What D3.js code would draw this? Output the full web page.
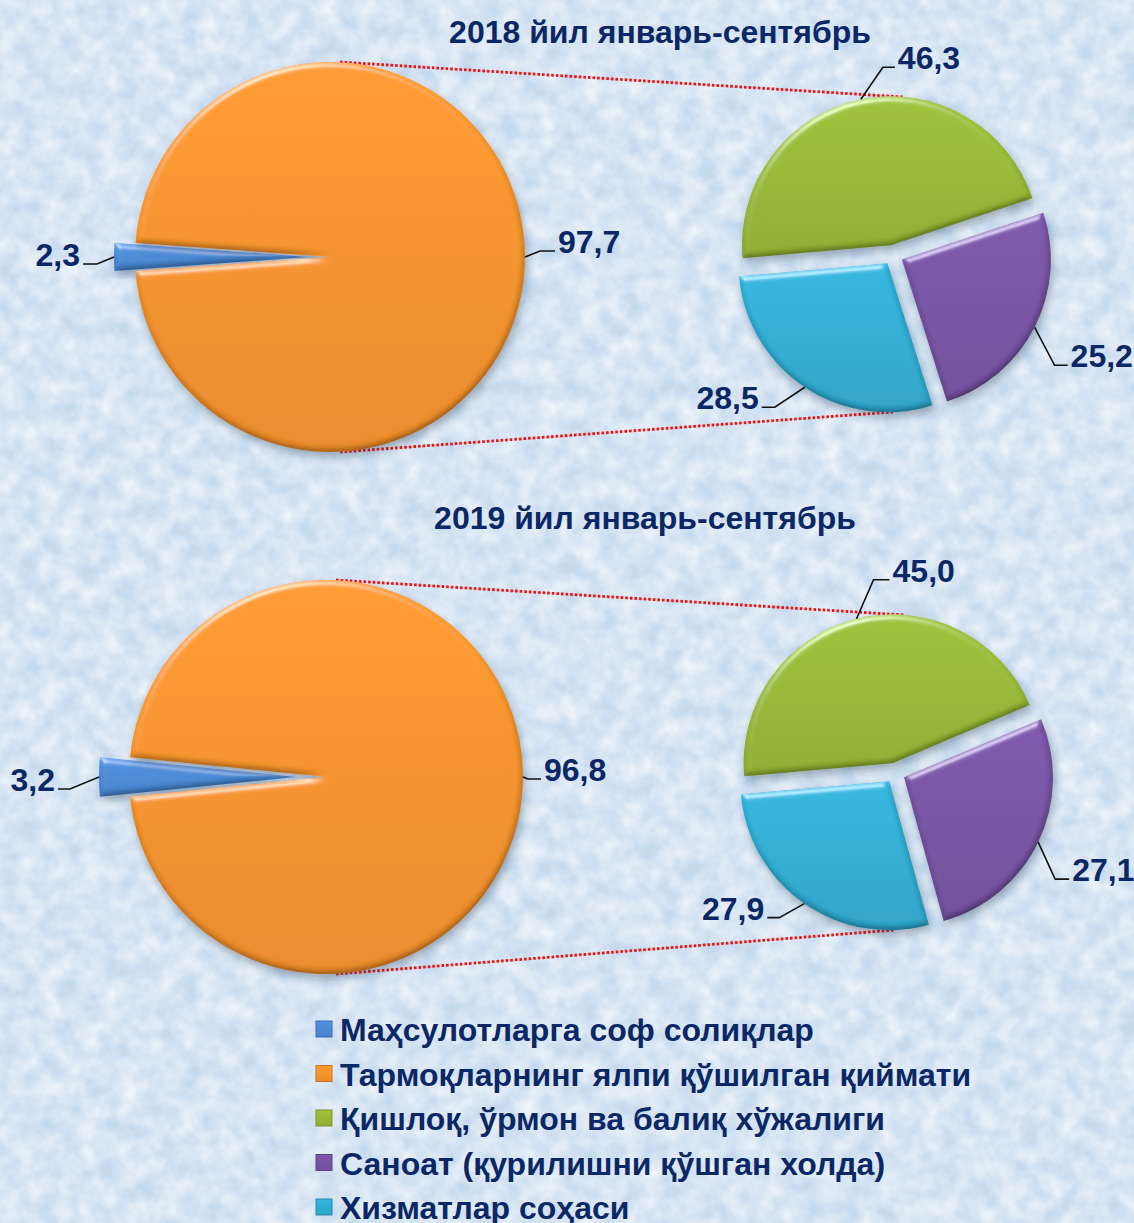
<!DOCTYPE html>
<html>
<head>
<meta charset="utf-8">
<script src="https://cdn.jsdelivr.net/npm/d3@7"></script>
<style>
  html, body { margin: 0; padding: 0; background: #d6e5f4; }
  svg { display: block; }
  text { font-family: "Liberation Sans", Arial, sans-serif; font-weight: bold; fill: #0b2766; }
</style>
</head>
<body>
<div id="chart"></div>
<script>
// категориялар (легенда тартибида)
const categories = [
  "Маҳсулотларга соф солиқлар",
  "Тармоқларнинг ялпи қўшилган қиймати",
  "Қишлоқ, ўрмон ва балиқ хўжалиги",
  "Саноат (қурилишни қўшган холда)",
  "Хизматлар соҳаси"
];
const colors = ["#4a8ad6", "#f7932b", "#97b835", "#7753a3", "#2fadd3"];

const titles = ["2018 йил январь-сентябрь", "2019 йил январь-сентябрь"];

// асосий доира: соф солиқлар, ЯҚҚ
const main2018 = [2.3, 97.7];
const main2019 = [3.2, 96.8];
// иккинчи доира: қишлоқ хўжалиги, саноат, хизматлар
const sub2018 = [46.3, 25.2, 28.5];
const sub2019 = [45.0, 27.1, 27.9];

const width = 1134, height = 1223;

// жойлашув
const panels = [
  {
    title: titles[0], main: main2018, sub: sub2018,
    titleX: 660, titleY: 43,
    big: { cx: 330, cy: 257, r: 195, explode: 21 },
    small: { cx: 893, cy: 255, r: 149, explode: 10 },
    mainLeaders: [[-17, 7, -14], [15, -6, 15]],
    subLeaders: [[22, -32, 12], [20, 38, 13], [-30, 20, -13]]
  },
  {
    title: titles[1], main: main2019, sub: sub2019,
    titleX: 645, titleY: 529,
    big: { cx: 326, cy: 777, r: 197, explode: 30 },
    small: { cx: 895, cy: 773, r: 149, explode: 10 },
    mainLeaders: [[-29, 12, -12], [5, 2, 13]],
    subLeaders: [[17, -39, 16], [17, 37, 14], [-25, 14, -12]]
  }
];

const fmt = d3.formatLocale({ decimal: ",", thousands: " ", grouping: [3], currency: ["", ""] }).format(".1f");

const svg = d3.select("#chart").append("svg")
  .attr("width", width)
  .attr("height", height);

const defs = svg.append("defs");

// фон текстураси
const tex = defs.append("filter").attr("id", "tex")
  .attr("filterUnits", "userSpaceOnUse")
  .attr("x", 0).attr("y", 0).attr("width", width).attr("height", height);
tex.append("feTurbulence").attr("type", "fractalNoise")
  .attr("baseFrequency", 0.05).attr("numOctaves", 3).attr("seed", 7);
tex.append("feColorMatrix").attr("type", "matrix")
  .attr("values", "0 0 0 0 1  0 0 0 0 1  0 0 0 0 1  1.1 0 0 0 -0.25");

// бўртма эффект
const bevel = defs.append("filter").attr("id", "bevel")
  .attr("x", "-20%").attr("y", "-20%").attr("width", "140%").attr("height", "145%");
bevel.append("feGaussianBlur").attr("in", "SourceAlpha").attr("stdDeviation", 3).attr("result", "blur");
bevel.append("feDiffuseLighting").attr("in", "blur").attr("surfaceScale", 3)
  .attr("diffuseConstant", 1.13).attr("lighting-color", "#ffffff").attr("result", "diff")
  .append("feDistantLight").attr("azimuth", 250).attr("elevation", 62);
bevel.append("feComposite").attr("in", "SourceGraphic").attr("in2", "diff")
  .attr("operator", "arithmetic").attr("k1", 1).attr("k2", 0).attr("k3", 0).attr("k4", 0).attr("result", "shade");
bevel.append("feSpecularLighting").attr("in", "blur").attr("surfaceScale", 3)
  .attr("specularConstant", 0.8).attr("specularExponent", 40).attr("lighting-color", "#ffffff").attr("result", "spec")
  .append("feDistantLight").attr("azimuth", 250).attr("elevation", 40);
bevel.append("feComposite").attr("in", "spec").attr("in2", "SourceAlpha").attr("operator", "in").attr("result", "specIn");
bevel.append("feComposite").attr("in", "shade").attr("in2", "specIn")
  .attr("operator", "arithmetic").attr("k1", 0).attr("k2", 1).attr("k3", 0.6).attr("k4", 0).attr("result", "lit");
bevel.append("feGaussianBlur").attr("in", "SourceAlpha").attr("stdDeviation", 4).attr("result", "sblur");
bevel.append("feOffset").attr("in", "sblur").attr("dx", 2).attr("dy", 5).attr("result", "soff");
bevel.append("feFlood").attr("flood-color", "#1d3550").attr("flood-opacity", 0.35).attr("result", "sfl");
bevel.append("feComposite").attr("in", "sfl").attr("in2", "soff").attr("operator", "in").attr("result", "shadow");
const merge = bevel.append("feMerge");
merge.append("feMergeNode").attr("in", "shadow");
merge.append("feMergeNode").attr("in", "lit");

// рангли градиентлар
colors.forEach((c, i) => {
  const gr = defs.append("linearGradient").attr("id", "grad" + i)
    .attr("x1", 0).attr("y1", 0).attr("x2", 0).attr("y2", 1);
  gr.append("stop").attr("offset", "0%").attr("stop-color", d3.color(c).brighter(0.15));
  gr.append("stop").attr("offset", "100%").attr("stop-color", d3.color(c).darker(0.15));
});

// фон
svg.append("rect").attr("width", width).attr("height", height).attr("fill", "#c6daee");
svg.append("rect").attr("width", width).attr("height", height).attr("filter", "url(#tex)");

function offsetOf(d, o) {
  const m = (d.startAngle + d.endAngle) / 2;
  return [o * Math.sin(m), -o * Math.cos(m)];
}

function drawLeader(g, anchor, leg, label) {
  const ex = anchor[0] + leg[0], ey = anchor[1] + leg[1];
  const hx = ex + leg[2];
  g.append("path")
    .attr("d", `M${anchor[0]},${anchor[1]}L${ex},${ey}L${hx},${ey}`)
    .attr("fill", "none")
    .attr("stroke", "#111")
    .attr("stroke-width", 1.6);
  g.append("text")
    .attr("x", leg[2] > 0 ? hx + 3 : hx - 3)
    .attr("y", ey + 2)
    .attr("text-anchor", leg[2] > 0 ? "start" : "end")
    .attr("font-size", "32px")
    .text(label);
}

function drawPanel(p) {
  const g = svg.append("g");

  g.append("text")
    .attr("x", p.titleX)
    .attr("y", p.titleY)
    .attr("text-anchor", "middle")
    .attr("font-size", "32px")
    .text(p.title);

  // пунктир чизиқлар
  const b = p.big, s = p.small;
  const links = [
    [[b.cx + 10, b.cy - b.r], [s.cx + 10, s.cy - s.r - s.explode + 1]],
    [[b.cx + 10, b.cy + b.r], [s.cx, s.cy + s.r + s.explode - 2]]
  ];
  g.selectAll(".link").data(links).join("line")
    .attr("class", "link")
    .attr("x1", d => d[0][0]).attr("y1", d => d[0][1])
    .attr("x2", d => d[1][0]).attr("y2", d => d[1][1])
    .attr("stroke", "#f01010")
    .attr("stroke-width", 2.8)
    .attr("stroke-dasharray", "2.6 2");

  // катта доира
  const total = d3.sum(p.main);
  const a0 = 1.5 * Math.PI - Math.PI * p.main[0] / total;
  const bigArcs = d3.pie().sort(null).startAngle(a0).endAngle(a0 + 2 * Math.PI)(p.main);
  const bigArc = d3.arc().innerRadius(0).outerRadius(b.r);
  const edgeBig = d3.arc().innerRadius(b.r).outerRadius(b.r);
  const bigG = g.append("g").attr("transform", `translate(${b.cx},${b.cy})`);
  const bigOff = (d, i) => offsetOf(d, i === 0 ? b.explode : 0);

  bigG.selectAll("path").data(bigArcs).join("path")
    .attr("transform", (d, i) => `translate(${bigOff(d, i)})`)
    .attr("d", bigArc)
    .attr("fill", (d, i) => `url(#grad${i})`)
    .attr("filter", "url(#bevel)");

  bigArcs.forEach((d, i) => {
    const o = bigOff(d, i), c = edgeBig.centroid(d);
    drawLeader(g, [b.cx + o[0] + c[0], b.cy + o[1] + c[1]], p.mainLeaders[i], fmt(d.data));
  });

  // кичик доира
  const s0 = -95 * Math.PI / 180;
  const subArcs = d3.pie().sort(null).startAngle(s0).endAngle(s0 + 2 * Math.PI)(p.sub);
  const subArc = d3.arc().innerRadius(0).outerRadius(s.r);
  const edgeSub = d3.arc().innerRadius(s.r).outerRadius(s.r);
  const subG = g.append("g").attr("transform", `translate(${s.cx},${s.cy})`);

  subG.selectAll("path").data(subArcs).join("path")
    .attr("transform", d => `translate(${offsetOf(d, s.explode)})`)
    .attr("d", subArc)
    .attr("fill", (d, i) => `url(#grad${i + 2})`)
    .attr("filter", "url(#bevel)");

  subArcs.forEach((d, i) => {
    const o = offsetOf(d, s.explode), c = edgeSub.centroid(d);
    drawLeader(g, [s.cx + o[0] + c[0], s.cy + o[1] + c[1]], p.subLeaders[i], fmt(d.data));
  });
}

panels.forEach(drawPanel);

// легенда
const legendY = d3.scalePoint().domain(categories).range([1041, 1219]);
const legend = svg.append("g").selectAll("g").data(categories).join("g")
  .attr("transform", d => `translate(316,${legendY(d)})`);

legend.append("rect")
  .attr("x", 0).attr("y", -20)
  .attr("width", 16).attr("height", 16)
  .attr("fill", (d, i) => `url(#grad${i})`)
  .attr("stroke", (d, i) => d3.color(colors[i]).darker(0.6))
  .attr("stroke-width", 1);

legend.append("text")
  .attr("x", 24)
  .attr("y", 0)
  .attr("font-size", "32px")
  .text(d => d);
</script>
</body>
</html>
